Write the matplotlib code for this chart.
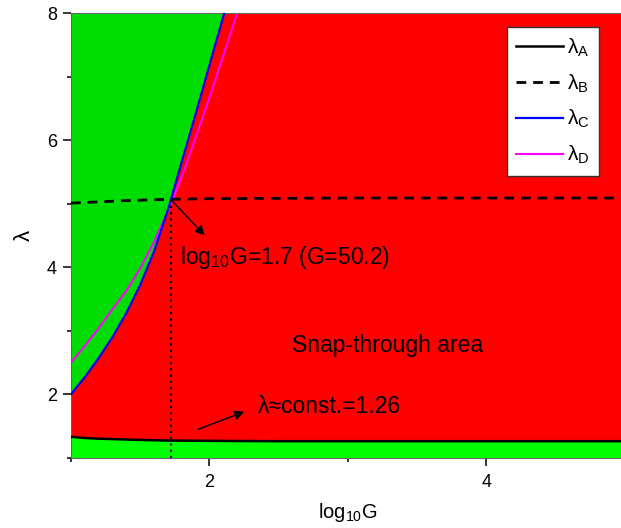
import matplotlib
matplotlib.use("Agg")
import matplotlib.pyplot as plt
from matplotlib.ticker import MultipleLocator

plt.rcParams['font.family'] = ['Liberation Sans', 'DejaVu Sans']
plt.rcParams['mathtext.fontset'] = 'custom'
plt.rcParams['mathtext.rm'] = 'Liberation Sans'
plt.rcParams['mathtext.it'] = 'Liberation Sans'

# ----------------- Data -----------------
# lambda_A: lower snap-through limit, nearly constant
xA = [1.0, 1.1, 1.2, 1.35, 1.5, 1.7, 2.0, 2.5, 3.0, 4.0, 5.0]
yA = [1.33, 1.31, 1.30, 1.29, 1.28, 1.27, 1.265, 1.26, 1.26, 1.26, 1.26]

# lambda_B: dashed, slowly rising
xB = [1.0, 1.2, 1.4, 1.7, 2.0, 2.5, 3.0, 4.0, 5.0]
yB = [5.01, 5.03, 5.05, 5.07, 5.08, 5.085, 5.09, 5.09, 5.09]

# lambda_C: blue, boundary of the upper green area
xC = [1.0, 1.1, 1.2, 1.3, 1.4, 1.5, 1.6, 1.7, 1.8, 1.9, 2.0, 2.107]
yC = [2.0, 2.27, 2.57, 2.9, 3.28, 3.72, 4.25, 4.9, 5.66, 6.41, 7.18, 8.0]

# lambda_D: magenta
xD = [1.0, 1.1, 1.2, 1.3, 1.4, 1.5, 1.6, 1.7, 1.8, 1.9, 2.0, 2.1, 2.2]
yD = [2.5, 2.76, 3.04, 3.34, 3.63, 3.98, 4.4, 4.88, 5.42, 6.04, 6.67, 7.33, 8.0]

x_cross, y_cross = 1.72, 5.07

# ----------------- Plot -----------------
fig = plt.figure(figsize=(6.21, 5.28), dpi=100)
ax = fig.add_axes([71/621, 1 - 457.7/528, 553.5/621, 444.4/528])

ax.set_xlim(1, 5)
ax.set_ylim(1, 8)

# filled regions
ax.fill_between([1, 5], 1, 8, color='#FF0000', lw=0, zorder=0)
ax.fill_between(xA, 1, yA, color='#00FF00', lw=0, zorder=1)
ax.fill_between(xC, yC, 8, color='#00DD00', lw=0, zorder=1)

# curves
ax.plot(xA, yA, color='black', lw=1.8, label=r'λ$_\mathrm{A}$', zorder=3)
ax.plot(xB, yB, color='black', lw=2, ls=(0, (3.5, 2.5)), label=r'λ$_\mathrm{B}$', zorder=3)
ax.plot(xC, yC, color='blue', lw=1.6, label=r'λ$_\mathrm{C}$', zorder=3)
ax.plot(xD, yD, color='magenta', lw=1.5, label=r'λ$_\mathrm{D}$', zorder=2)

# marker of the crossing
ax.plot([x_cross, x_cross], [1, y_cross], color='black', lw=1.5, ls=(0, (1, 2)), zorder=3)

ax.annotate('', xy=(1.98, 4.47), xytext=(x_cross, y_cross),
            arrowprops=dict(arrowstyle='-|>', color='black', lw=1, mutation_scale=14))
ax.text(1.79, 4.16, r'log$_{10}$G=1.7 (G=50.2)', fontsize=16.5, va='center', ha='left')

ax.annotate('', xy=(2.27, 1.74), xytext=(1.90, 1.43),
            arrowprops=dict(arrowstyle='-|>', color='black', lw=1, mutation_scale=14))
ax.text(2.35, 1.80, 'λ≈const.=1.26', fontsize=16.5, va='center', ha='left')

ax.text(2.6, 2.77, 'Snap-through area', fontsize=16.5, va='center', ha='left')

# axes styling
ax.xaxis.set_major_locator(MultipleLocator(2))
ax.xaxis.set_minor_locator(MultipleLocator(1))
ax.yaxis.set_major_locator(MultipleLocator(2))
ax.yaxis.set_minor_locator(MultipleLocator(1))
ax.tick_params(which='major', direction='out', length=5.8, width=1.1, labelsize=13)
ax.tick_params(which='minor', direction='out', length=3, width=1.1)
ax.tick_params(axis='x', which='major', pad=6)
ax.tick_params(axis='y', which='major', pad=4.3)
ax.spines['right'].set_visible(False)
for s in ['left', 'bottom', 'top']:
    ax.spines[s].set_color('#666666')

ax.set_xlabel(r'log$_{10}$G', fontsize=14.5, labelpad=7)
ax.set_ylabel('λ', fontsize=16, labelpad=9)

leg = ax.legend(loc='upper left', bbox_to_anchor=(507/621, 1 - 27/528),
                bbox_transform=fig.transFigure,
                fontsize=15, handlelength=2.25, labelspacing=0.65,
                fancybox=False, framealpha=1, borderpad=0.45, borderaxespad=0,
                handletextpad=0.2)
leg.get_frame().set_edgecolor('#333333')
leg.get_frame().set_linewidth(1)

fig.savefig('out.png', dpi=100)
